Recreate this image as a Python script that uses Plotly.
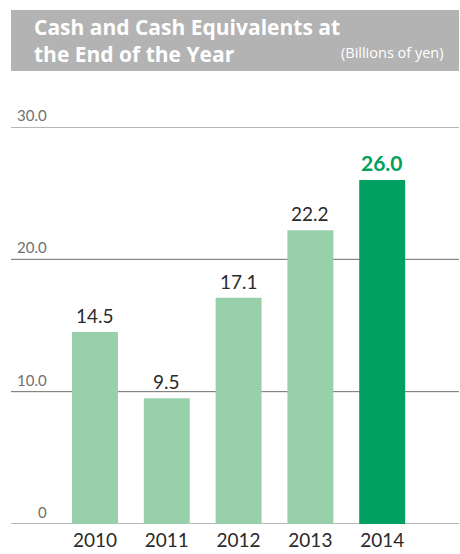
import plotly.graph_objects as go

years = ["2010", "2011", "2012", "2013", "2014"]
values = [14.5, 9.5, 17.1, 22.2, 26.0]
value_labels = ["14.5", "9.5", "17.1", "22.2", "26.0"]
y_ticks = [0, 10, 20, 30]
y_tick_labels = ["0", "10.0", "20.0", "30.0"]

light = "#98d0ac"
dark = "#00a160"
colors = [light, light, light, light, dark]

fig = go.Figure()
fig.add_trace(go.Bar(x=years, y=values, marker=dict(color=colors, line=dict(width=0)),
                     width=0.64, hoverinfo="skip"))

H_PLOT = 397.0

# gridlines
for v in y_ticks:
    fig.add_shape(type="line", xref="paper", yref="y", x0=0, x1=1, y0=v, y1=v,
                  line=dict(color="#6e6e6e", width=1), layer="below")
for v, t in zip(y_ticks, y_tick_labels):
    fig.add_annotation(xref="paper", yref="y", x=(49 - 11) / 448, y=v, text=t,
                       xanchor="right", yanchor="bottom", yshift=1, showarrow=False,
                       font=dict(family="Lato", size=15, color="#707070"))

# value labels (category index positions)
for i, (v, t) in enumerate(zip(values, value_labels)):
    last = i == len(years) - 1
    fig.add_annotation(x=i, y=v, text=("<b>%s</b>" % t) if last else t,
                       xanchor="center", yanchor="bottom", yshift=3, showarrow=False,
                       font=dict(family="Lato", size=21 if last else 19,
                                 color=dark if last else "#2a2a2a"))

# header box
fig.add_shape(type="rect", xref="paper", yref="paper", x0=0, x1=1,
              y0=1 + (127 - 71) / H_PLOT, y1=1 + (127 - 10) / H_PLOT,
              fillcolor="#b3b3b3", line=dict(width=0))
fig.add_annotation(xref="paper", yref="paper", x=(32 - 11) / 448, y=1 + (127 - 40.5) / H_PLOT,
                   text="<b>Cash and Cash Equivalents at<br>the End of the Year</b>",
                   xanchor="left", yanchor="middle", align="left", showarrow=False,
                   font=dict(family="Open Sans", size=21, color="white"))
fig.add_annotation(xref="paper", yref="paper", x=(446 - 11) / 448, y=1 + (127 - 52) / H_PLOT,
                   text="(Billions of yen)", xanchor="right", yanchor="middle",
                   showarrow=False, font=dict(family="Open Sans", size=14.5, color="white"))

fig.update_layout(
    width=460, height=554,
    margin=dict(l=11, r=1, t=127, b=30),
    paper_bgcolor="white", plot_bgcolor="white",
    showlegend=False,
    xaxis=dict(type="category", range=[-1.17, 5.07], showgrid=False, zeroline=False,
               showline=False, ticks="", ticklabelstandoff=3,
               tickfont=dict(family="Lato", size=19, color="#2a2a2a")),
    yaxis=dict(range=[0, 30], showgrid=False, zeroline=False, showticklabels=False,
               showline=False),
)

fig.write_html("out.html")
